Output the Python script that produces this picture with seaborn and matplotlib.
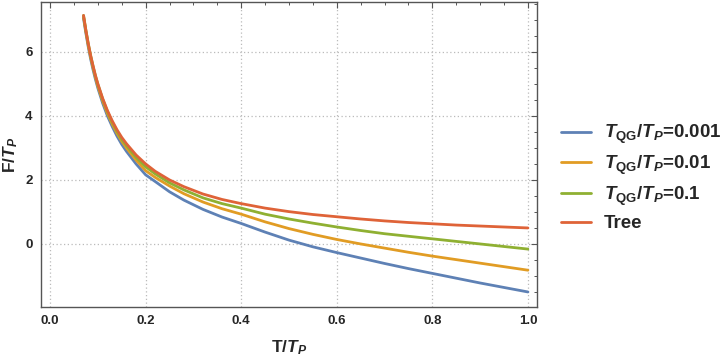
import numpy as np
import pandas as pd
import seaborn as sns
import matplotlib.pyplot as plt
from matplotlib.ticker import MultipleLocator

# values
T = [0.07, 0.075, 0.08, 0.085, 0.09, 0.095, 0.10, 0.11, 0.12, 0.13, 0.14, 0.15,
     0.16, 0.18, 0.20, 0.22, 0.25, 0.28, 0.32, 0.36, 0.40, 0.45, 0.50, 0.55,
     0.60, 0.65, 0.70, 0.75, 0.80, 0.85, 0.90, 0.95, 1.00]

F_qg_0001 = [7.05, 6.58, 6.15, 5.77, 5.44, 5.14, 4.87, 4.40, 4.00, 3.67, 3.37, 3.11,
             2.89, 2.50, 2.16, 1.95, 1.63, 1.37, 1.08, 0.84, 0.64, 0.37, 0.12, -0.09,
             -0.27, -0.44, -0.61, -0.77, -0.92, -1.07, -1.22, -1.36, -1.50]
F_qg_001 = [7.10, 6.63, 6.20, 5.83, 5.50, 5.20, 4.93, 4.47, 4.08, 3.75, 3.46, 3.21,
            3.00, 2.62, 2.29, 2.08, 1.81, 1.57, 1.31, 1.10, 0.93, 0.69, 0.48, 0.30,
            0.14, 0.00, -0.13, -0.26, -0.38, -0.49, -0.60, -0.71, -0.82]
F_qg_01 = [7.14, 6.67, 6.25, 5.88, 5.55, 5.25, 4.99, 4.53, 4.14, 3.81, 3.52, 3.27,
           3.07, 2.71, 2.41, 2.19, 1.91, 1.69, 1.44, 1.26, 1.12, 0.93, 0.78, 0.65,
           0.53, 0.42, 0.32, 0.24, 0.16, 0.08, 0.00, -0.08, -0.16]
F_tree = [7.14, 6.67, 6.25, 5.88, 5.56, 5.26, 5.00, 4.55, 4.17, 3.85, 3.57, 3.33,
          3.13, 2.78, 2.50, 2.27, 2.00, 1.79, 1.56, 1.39, 1.26, 1.12, 1.01, 0.92,
          0.85, 0.78, 0.72, 0.67, 0.63, 0.59, 0.56, 0.53, 0.50]

labels = [r'$T_{\mathrm{QG}}/T_P$=0.001', r'$T_{\mathrm{QG}}/T_P$=0.01',
          r'$T_{\mathrm{QG}}/T_P$=0.1', 'Tree']
colors = ['#5E81B5', '#E19C24', '#8FB032', '#DF6338']

df = pd.concat([
    pd.DataFrame({'T': T, 'F': vals, 'curve': lab})
    for vals, lab in zip([F_qg_0001, F_qg_001, F_qg_01, F_tree], labels)
])

sns.set_style('white')
plt.rcParams['font.family'] = ['Liberation Sans', 'DejaVu Sans']
plt.rcParams['font.weight'] = 'bold'
plt.rcParams['mathtext.fontset'] = 'custom'
plt.rcParams['mathtext.rm'] = 'Liberation Sans:bold'
plt.rcParams['mathtext.it'] = 'Liberation Sans:italic:bold'
plt.rcParams['mathtext.bf'] = 'Liberation Sans:bold'

fig = plt.figure(figsize=(7.22, 3.58), dpi=100)
ax = fig.add_axes([41 / 722, 51 / 358, 496 / 722, 305 / 358])

sns.lineplot(data=df, x='T', y='F', hue='curve', palette=colors, hue_order=labels,
             linewidth=2.0, sort=False, ax=ax)

ax.set_xlim(-0.019, 1.019)
ax.set_ylim(-1.97, 7.56)
ax.xaxis.set_major_locator(MultipleLocator(0.2))
ax.xaxis.set_minor_locator(MultipleLocator(0.05))
ax.yaxis.set_major_locator(MultipleLocator(2))
ax.yaxis.set_minor_locator(MultipleLocator(0.5))
ax.set_xticklabels([f'{v:.1f}' for v in ax.get_xticks()])

ax.grid(True, which='major', color='#BBBBBB', linestyle=(0, (1, 2)), linewidth=0.9)
ax.tick_params(which='both', direction='in', top=True, right=True,
               color='#555555', labelsize=9.5, pad=6)
ax.tick_params(which='major', length=4, width=0.8)
ax.tick_params(which='minor', length=2.5, width=0.7)
for sp in ax.spines.values():
    sp.set_color('#555555')
    sp.set_linewidth(1.0)

ax.set_xlabel(r'T/$T_P$', fontsize=12.5, fontweight='bold', labelpad=8)
ax.set_ylabel(r'F/$T_P$', fontsize=12.5, fontweight='bold', labelpad=4)

ax.legend(loc='center left', bbox_to_anchor=(561 / 722, 0.504), bbox_transform=fig.transFigure,
          frameon=False, fontsize=13.5, handlelength=1.6, handletextpad=0.7,
          labelspacing=0.4, borderaxespad=0, borderpad=0)

fig.savefig('out.png', dpi=100)
